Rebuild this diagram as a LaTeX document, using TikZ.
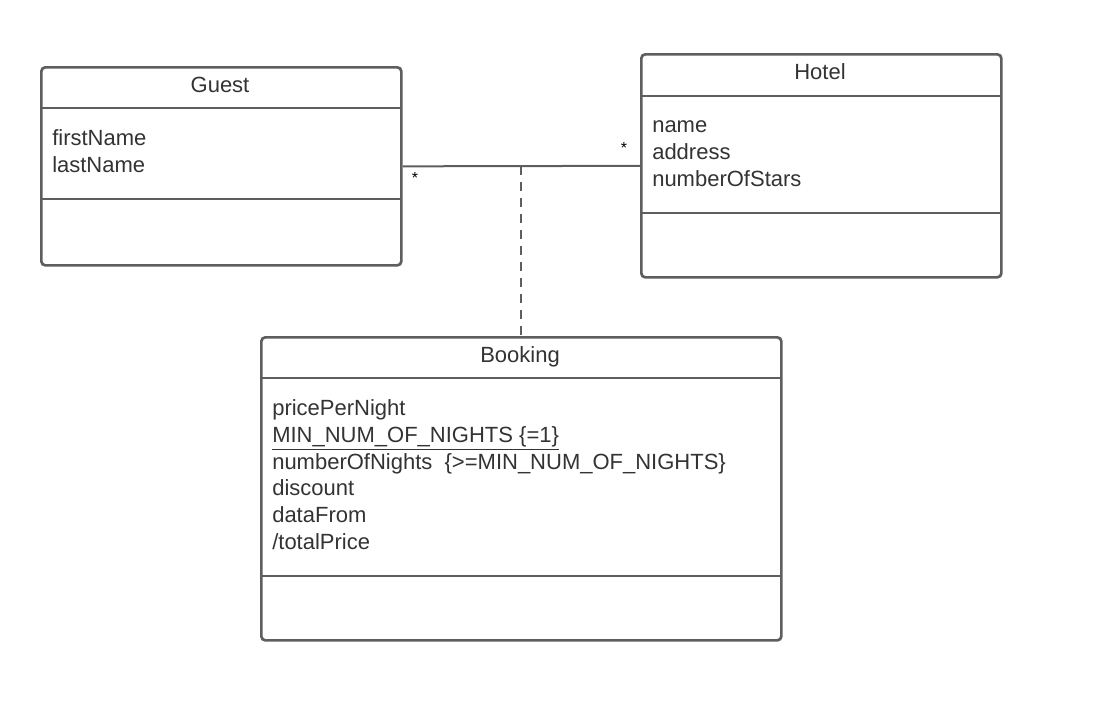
\documentclass[tikz,border=0pt]{standalone}
\usepackage{fontspec}
\setmainfont{Liberation Sans}
\usepackage{tikz}
\usetikzlibrary{calc}
\definecolor{boxline}{HTML}{5E5E5E}
\definecolor{txt}{HTML}{333333}
\tikzset{
  classbox/.style={draw=boxline, line width=2pt, rounded corners=3pt, anchor=north west, inner sep=0pt},
  divider/.style={draw=boxline, line width=2pt},
  title/.style={text=txt, font=\fontsize{16.5}{20}\selectfont, anchor=base},
  attrs/.style={text=txt, font=\fontsize{16.5}{20}\selectfont, anchor=base west, align=left, inner sep=0pt},
  mult/.style={font=\fontsize{12}{14}\selectfont}
}

\begin{document}
\begin{tikzpicture}[x=0.75pt,y=-0.75pt]
\useasboundingbox (0,0) rectangle (1094,721);
\node[classbox, minimum width=270pt, minimum height=148.5pt] (guest) at (40,66) {};
\draw[divider] (40,108) -- (400,108);
\draw[divider] (40,199) -- (400,199);
\node[title] (guesttitle) at (220,92) {Guest};
\node[attrs] (guestattrs) at (52,172) {firstName\\lastName};

\node[classbox, minimum width=270pt, minimum height=167.25pt] (hotel) at (640,53) {};
\draw[divider] (640,96) -- (1000,96);
\draw[divider] (640,213) -- (1000,213);
\node[title] (hoteltitle) at (820,79) {Hotel};
\node[attrs] (hotelattrs) at (652,186) {name\\address\\numberOfStars};

\node[classbox, minimum width=390pt, minimum height=227.25pt] (booking) at (260,336) {};
\draw[divider] (260,378) -- (780,378);
\draw[divider] (260,576) -- (780,576);
\node[title] (bookingtitle) at (520,362) {Booking};
\node[attrs] (bookingattrs) at (272,549) {pricePerNight\\
\underline{MIN\_NUM\_OF\_NIGHTS \{=1\}}\\
numberOfNights\ \ \{>=MIN\_NUM\_OF\_NIGHTS\}\\
discount\\
dataFrom\\
/totalPrice};

\draw[boxline, line width=1.5pt] (guest.east) -- coordinate[pos=0.5] (assoc) (hotel.west);
\node[mult] (guestmult) at (415,178) {*};
\node[mult] (hotelmult) at (624,148) {*};
\draw[boxline, line width=1.5pt, dash pattern=on 7pt off 5pt] (assoc) -- (booking.north);
\end{tikzpicture}
\end{document}
